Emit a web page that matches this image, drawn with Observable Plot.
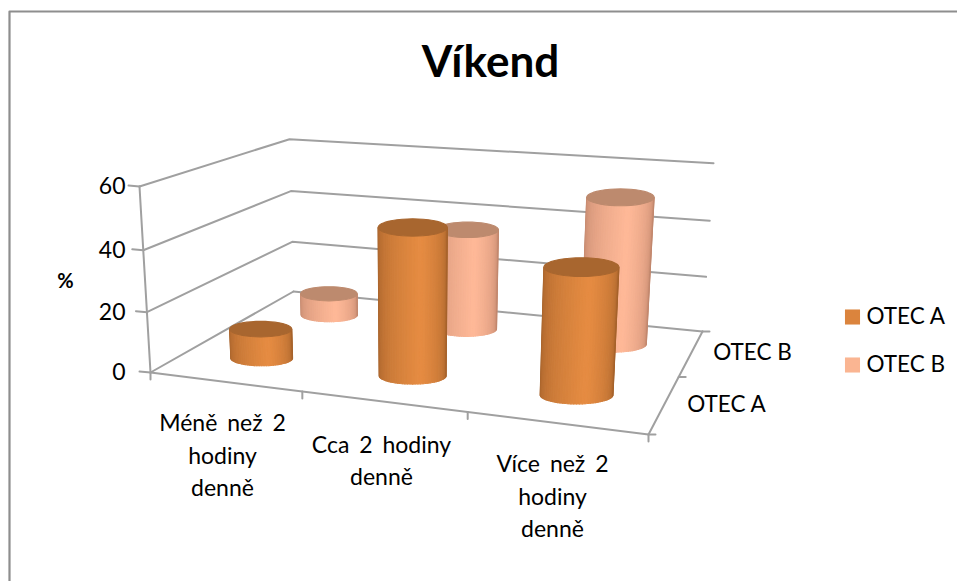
<!DOCTYPE html>
<html><head><meta charset="utf-8">
<style>html,body{margin:0;padding:0;background:#fff}svg{display:block}</style>
<script src="https://cdn.jsdelivr.net/npm/d3@7"></script>
<script src="https://cdn.jsdelivr.net/npm/@observablehq/plot@0.6"></script>
</head><body><div id="c"></div>
<script>
const categories = ["Méně než 2\nhodiny\ndenně", "Cca 2 hodiny\ndenně", "Více než 2\nhodiny\ndenně"];
const seriesNames = ["OTEC A", "OTEC B"];
const otecA = [10, 48, 40];
const otecB = [8, 36, 51];
const valueTicks = [0, 20, 40, 60];
const title = "Víkend";
const axisTitle = "%";

const cam = {O:[150,372], X:[648,434], Y:[293,291], F:[702,331], Z:[139,186], D:[713,162]};
function solveCam({O,X,Y,F,Z,D}) {
  const a11=X[0]-F[0], a12=Y[0]-F[0], b1=F[0]+O[0]-X[0]-Y[0];
  const a21=X[1]-F[1], a22=Y[1]-F[1], b2=F[1]+O[1]-X[1]-Y[1];
  const det=a11*a22-a12*a21;
  const a=(b1*a22-a12*b2)/det, b=(a11*b2-a21*b1)/det;
  const nx=Z[0]-D[0], ny=Z[1]-D[1];
  const rx=D[0]*(1+a+b)-X[0]*(1+a)-Y[0]*(1+b)-Z[0]+2*O[0];
  const ry=D[1]*(1+a+b)-X[1]*(1+a)-Y[1]*(1+b)-Z[1]+2*O[1];
  const c=(nx*rx+ny*ry)/(nx*nx+ny*ny);
  const B=(P,k)=>[P[0]*(1+k)-O[0],P[1]*(1+k)-O[1]];
  return {O,a,b,c,bx:B(X,a),by:B(Y,b),bz:B(Z,c)};
}
const P = solveCam(cam);
const maxV = 60;
function proj(u,v,h){
  const t=h/maxV, w=1+P.a*u+P.b*v+P.c*t;
  return [0,1].map(k=>(P.O[k]+P.bx[k]*u+P.by[k]*v+P.bz[k]*t)/w);
}
const pt=(u,v,h,extra={},dx=0,dy=0)=>{const [x,y]=proj(u,v,h);return {x:x+dx,y:y+dy,...extra};};

const lines=[];
const seg=(id,a,b)=>{lines.push(pt(...a,{id}),pt(...b,{id}));};
valueTicks.forEach(t=>{
  if(t>0) lines.push(pt(0,0,t,{id:"g"+t}),pt(0,1,t,{id:"g"+t}),pt(1,1,t,{id:"g"+t}));
  const id="yt"+t; lines.push(pt(0,0,t,{id}),pt(0,0,t,{id},-11,-1));
});
seg("left",[0,0,0],[0,0,maxV]);
seg("front",[0,0,0],[1,0,0]);
seg("right",[1,0,0],[1,1,0]);
seg("fl",[0,0,0],[0,1,0]);
seg("bk",[0,1,0],[1,1,0]);
[0,1,2,3].forEach(i=>{const id="xt"+i;lines.push(pt(i/3,0,0,{id}),pt(i/3,0,0,{id},0,7));});
[0,1,2].forEach(i=>{const id="zt"+i;lines.push(pt(1,i/2,0,{id}),pt(1,i/2,0,{id},7,0));});

const RU=0.071, FLAT=0.25, cvs=[0.24,0.76], N=40;
const shades=[
  {edge:"#9c5c28",mid:"#e68c42",top:"#a8662f"},
  {edge:"#b98067",mid:"#ffb998",top:"#bd8a6e"}
];
const polys=[];
function cylinder(id,i,s,val){
  const cu=(i+.5)/3, cv=cvs[s], c=d3.interpolateRgb(shades[s].edge,shades[s].mid);
  const [bx,by]=proj(cu,cv,0), [tx,ty]=proj(cu,cv,val);
  const rb=Math.abs(proj(cu+RU,cv,0)[0]-proj(cu-RU,cv,0)[0])/2;
  const rt=Math.abs(proj(cu+RU,cv,val)[0]-proj(cu-RU,cv,val)[0])/2;
  const rim=(cx,cy,r,g)=>({x:cx+r*Math.cos(g),y:cy+r*FLAT*Math.sin(g)});
  for(let k=0;k<N;k++){
    const a=Math.PI-k/N*Math.PI, b=Math.PI-(k+1)/N*Math.PI;
    const tt=(k+.5)/N, d=1-Math.min(1,Math.abs(tt-0.58)/(tt<0.58?0.58:0.42));
    const col=c(Math.pow(d,0.6)), q=id+"b"+String(k).padStart(2,"0");
    polys.push({...rim(bx,by,rb,a),id:q,col},{...rim(bx,by,rb,b),id:q,col},
               {...rim(tx,ty,rt,b),id:q,col},{...rim(tx,ty,rt,a),id:q,col});
  }
  d3.range(N).forEach(k=>polys.push({...rim(tx,ty,rt,k/N*2*Math.PI),id:id+"top",col:shades[s].top}));
}
[1,0].forEach(s=>{(s?otecB:otecA).forEach((v,i)=>cylinder("s"+s+"c"+i,i,s,v));});

const catPos=[[222,453],[381,458],[552,494]];
const tx=categories.map((c,i)=>({x:catPos[i][0],y:catPos[i][1],t:c}));
const fs=23;
const frame=[{x:9,y:581},{x:9,y:11},{x:957,y:11}];
const spaced=(px)=>function(i,s,v,d,c,next){const g=next(i,s,v,d,c);g.style.wordSpacing=px;return g;};

const svg=Plot.plot({
  width:957,height:581,margin:0,
  x:{domain:[0,957],range:[0,957],axis:null},
  y:{domain:[0,581],range:[0,581],axis:null},
  marks:[
    Plot.line(frame,{x:"x",y:"y",stroke:"#8e8e8e",strokeWidth:2.2}),
    Plot.line(lines,{x:"x",y:"y",z:"id",stroke:"#a0a0a0",strokeWidth:2,curve:"linear"}),
    Plot.line(polys,{x:"x",y:"y",z:"id",fill:"col",stroke:"col",strokeWidth:1.1,curve:"linear-closed"}),
    Plot.text(tx,{x:"x",y:"y",text:"t",fontSize:fs,lineHeight:1.41,textAnchor:"middle",lineAnchor:"middle",fill:"#000",render:spaced("4px")}),
    Plot.text(valueTicks,{x:125,y:d=>proj(0,0,d)[1],text:String,textAnchor:"end",fontSize:fs,fill:"#000"}),
    Plot.text([axisTitle],{x:[65],y:[281],text:d=>d,fontWeight:"bold",fontSize:20,fill:"#000"}),
    Plot.text([title],{x:[490],y:[62],text:d=>d,fontWeight:"bold",fontSize:44,fill:"#000"}),
    Plot.text(seriesNames,{x:[726,752],y:[404,352],text:d=>d,textAnchor:"middle",fontSize:22.5,fill:"#000"}),
    Plot.text(seriesNames,{x:[866,866],y:[316,364],text:d=>d,textAnchor:"start",fontSize:22.5,fill:"#000"}),
    Plot.dot(seriesNames,{x:[852,852],y:[316.5,364.5],symbol:"square",r:8.5,fill:["#db843d","#fab592"],stroke:null})
  ]
});
svg.style.fontFamily="Lato, 'Open Sans', sans-serif";
document.getElementById("c").appendChild(svg);
</script></body></html>
